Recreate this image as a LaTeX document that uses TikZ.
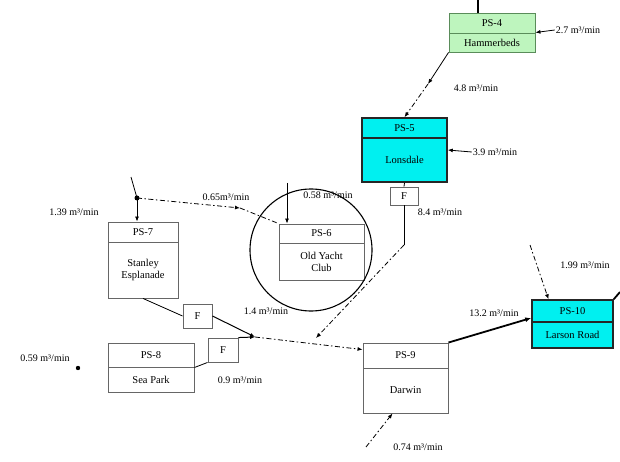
\documentclass[tikz,border=0pt]{standalone}
\usepackage{fontspec}
\setmainfont{Liberation Serif}
\usetikzlibrary{arrows.meta,fit}
\definecolor{aqua}{RGB}{0,240,240}
\definecolor{lgreen}{RGB}{190,245,190}
\definecolor{ggreen}{RGB}{90,140,90}
\begin{document}
\begin{tikzpicture}[x=1pt,y=-1pt,
  lbl/.style={font=\fontsize{10}{11}\selectfont, inner sep=1pt},
  btxt/.style={font=\fontsize{10.5}{11.5}\selectfont, align=center, inner sep=0pt},
  wbox/.style={draw=black!60, line width=0.9pt, fill=white, inner sep=0pt},
  gbox/.style={draw=ggreen, line width=0.9pt, fill=lgreen, inner sep=0pt},
  cbox/.style={draw=black!85, line width=1.6pt, fill=aqua, inner sep=0pt},
  ddot/.style={dash pattern=on 5pt off 2.5pt on 1.5pt off 2.5pt, line width=0.8pt},
  tip/.style={-{Latex[length=5pt,width=4pt]}},
  plain/.style={line width=0.8pt}]
\useasboundingbox (0,0) rectangle (620,462);

% ---- boxes ----
\node[gbox, fit={(449,13) (535,52)}] (ps4) {};
\draw[ggreen, line width=0.9pt] (449,33) -- (535,33);
\node[btxt] at (492,23) {PS-4};
\node[btxt] at (492,43) {Hammerbeds};

\node[cbox, fit={(362,118) (447,182)}] (ps5) {};
\draw[black!85, line width=1.2pt] (362,138) -- (447,138);
\node[btxt] at (404.5,128) {PS-5};
\node[btxt] at (404.5,160) {Lonsdale};

\node[wbox, fit={(390,187) (418,205)}] (f1) {};
\node[btxt] at (f1) {F};

\node[wbox, fit={(108,222) (178,298)}] (ps7) {};
\draw[black!60, line width=0.9pt] (108,242) -- (178,242);
\node[btxt] at (143,232) {PS-7};
\node[btxt] at (143,270) {Stanley\\Esplanade};

\node[wbox, fit={(279,224) (364,280)}] (ps6) {};
\draw[black!60, line width=0.9pt] (279,243) -- (364,243);
\node[btxt] at (321.5,233.5) {PS-6};
\node[btxt] at (321.5,262) {Old Yacht\\Club};
\node[circle, draw=black, line width=1.1pt, minimum size=122pt, inner sep=0pt] (ring) at (311,250) {};

\node[wbox, fit={(183,304) (212,328)}] (f7) {};
\node[btxt] at (f7) {F};

\node[wbox, fit={(108,343) (194,392)}] (ps8) {};
\draw[black!60, line width=0.9pt] (108,367) -- (194,367);
\node[btxt] at (151,355) {PS-8};
\node[btxt] at (151,379.5) {Sea Park};

\node[wbox, fit={(208,338) (238,362)}] (f8) {};
\node[btxt] at (f8) {F};

\node[wbox, fit={(363,343) (448,413)}] (ps9) {};
\draw[black!60, line width=0.9pt] (363,368) -- (448,368);
\node[btxt] at (405.5,355.5) {PS-9};
\node[btxt] at (405.5,390.5) {Darwin};

\node[cbox, fit={(532,300) (613,348)}] (ps10) {};
\draw[black!85, line width=1.2pt] (532,322) -- (613,322);
\node[btxt] at (572.5,311) {PS-10};
\node[btxt] at (572.5,335) {Larson Road};

% ---- labels ----
\node[lbl] (l4) at (578,30) {2.7 m³/min};
\node[lbl] (l48) at (476,88) {4.8 m³/min};
\node[lbl] (l5) at (495,152) {3.9 m³/min};
\node[lbl] (l84) at (440,212) {8.4 m³/min};
\node[lbl] (l139) at (74,212) {1.39 m³/min};
\node[lbl] (l65) at (226,197) {0.65m³/min};
\node[lbl] (l58) at (328,195) {0.58 m³/min};
\node[lbl] (l14) at (266,311) {1.4 m³/min};
\node[lbl] (l59) at (45,358) {0.59 m³/min};
\node[lbl] (l09) at (240,380) {0.9 m³/min};
\node[lbl] (l132) at (494,313) {13.2 m³/min};
\node[lbl] (l199) at (585,265) {1.99 m³/min};
\node[lbl] (l74) at (418,447) {0.74 m³/min};

% ---- coordinates ----
\coordinate (top4) at (478,0);
\coordinate (c4) at (428,84);
\coordinate (k1) at (404,245);
\coordinate (mm) at (316,338);
\coordinate (j1) at (137,198);
\coordinate (in7) at (131,177);
\coordinate (c65) at (240,208);
\coordinate (in6) at (287,183);
\coordinate (j2) at (255,337);
\coordinate (in9) at (366,447);
\coordinate (in10) at (530,245);
\coordinate (out10) at (620,292);
\coordinate (d59) at (78,368);

% ---- connectors ----
\draw[line width=2pt] (top4) -- (top4 |- ps4.north);
\draw[plain,tip] (l4.west) -- (ps4.east);
\draw[plain,tip] (ps4.south west) -- (c4);
\draw[ddot,tip] (c4) -- (ps5.north);
\draw[plain,tip] (l5.west) -- (ps5.east);
\draw[plain] (ps5.south) -- (f1.north);
\draw[plain] (f1.south) -- (k1);
\draw[ddot,tip] (k1) -- (mm);

\draw[plain] (in7) -- (j1);
\fill (j1) circle (2.5);
\draw[plain,tip] (j1) -- (j1 |- ps7.north);
\draw[ddot,tip] (j1) -- (c65);
\draw[ddot] (c65) -- (ps6.north west);
\draw[plain,tip] (in6) -- (in6 |- ps6.north);

\draw[plain] (ps7.south) -- (f7.west);
\draw[line width=1pt,tip] (f7.east) -- (j2);
\draw[plain] (ps8.east) -- (f8.south west);
\draw[line width=1pt,tip] (f8.north east) -- (j2);
\draw[ddot,tip] (j2) -- ([yshift=-7pt]ps9.north west);
\fill (d59) circle (2.2);

\draw[ddot,tip] (in9) -- ([xshift=-13pt]ps9.south);
\draw[line width=1.8pt,-{Latex[length=6pt,width=5pt]}] (ps9.north east) -- ([yshift=6pt]ps10.west);
\draw[line width=1.8pt] (ps10.north east) -- (out10);
\draw[ddot,tip] (in10) -- ([xshift=-24pt]ps10.north);
\end{tikzpicture}
\end{document}
